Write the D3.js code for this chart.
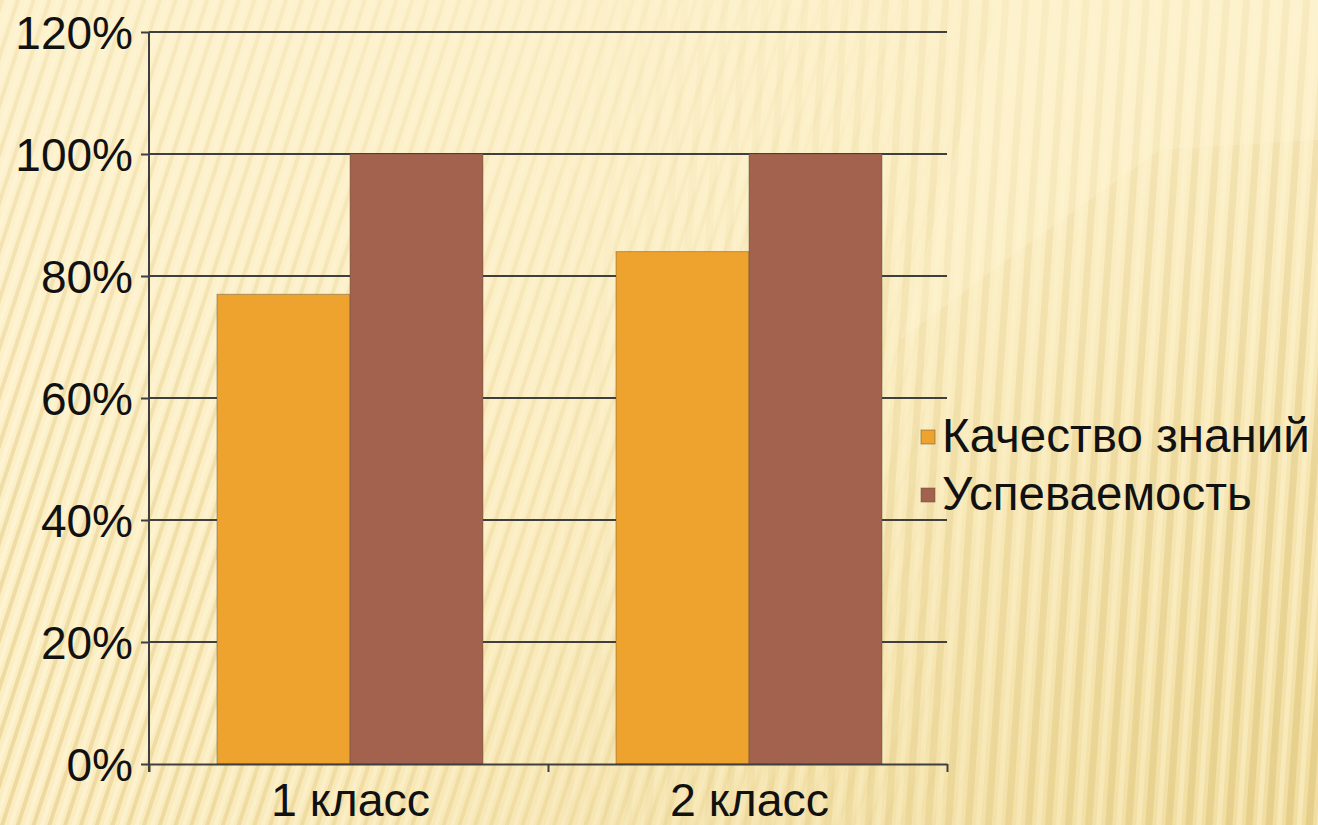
<!DOCTYPE html>
<html>
<head>
<meta charset="utf-8">
<script src="https://cdn.jsdelivr.net/npm/d3@7"></script>
<style>
  html, body { margin: 0; padding: 0; background: #FBEEC4; }
  svg { display: block; }
  text { font-family: "Liberation Sans", Arial, sans-serif; fill: #111; }
</style>
</head>
<body>
<svg id="chart" width="1318" height="825"></svg>
<script>
// ---- data ----
const categories = ["1 класс", "2 класс"];
const seriesNames = ["Качество знаний", "Успеваемость"];
const quality = [0.77, 0.84];
const performance = [1.00, 1.00];
const yTicks = [0, 0.2, 0.4, 0.6, 0.8, 1.0, 1.2];
const seriesColors = ["#EEA32F", "#A3624D"];

const W = 1318, H = 825;
const svg = d3.select("#chart");
const defs = svg.append("defs");

// background gradient
const bg = defs.append("linearGradient").attr("id", "bgGrad")
  .attr("x1", "0").attr("y1", "0").attr("x2", "1").attr("y2", "1");
bg.append("stop").attr("offset", "0").attr("stop-color", "#FDF2CE");
bg.append("stop").attr("offset", "0.5").attr("stop-color", "#FBEDC1");
bg.append("stop").attr("offset", "1").attr("stop-color", "#F1DDA0");

// diagonal stripes (left)
const p1 = defs.append("pattern").attr("id", "stripeDiag")
  .attr("width", 15).attr("height", 15).attr("patternUnits", "userSpaceOnUse")
  .attr("patternTransform", "rotate(18)");
p1.append("rect").attr("x", 0).attr("y", 0).attr("width", 4).attr("height", 15)
  .attr("fill", "#D6B866").attr("opacity", 0.4);
p1.append("rect").attr("x", 8).attr("y", 0).attr("width", 4).attr("height", 15)
  .attr("fill", "#FFF8DE").attr("opacity", 0.55);

// vertical stripes (right)
const p2 = defs.append("pattern").attr("id", "stripeVert")
  .attr("width", 20).attr("height", 20).attr("patternUnits", "userSpaceOnUse")
  .attr("patternTransform", "rotate(4)");
p2.append("rect").attr("x", 0).attr("y", 0).attr("width", 7).attr("height", 20)
  .attr("fill", "#D8BC6C").attr("opacity", 0.45);
p2.append("rect").attr("x", 11).attr("y", 0).attr("width", 5).attr("height", 20)
  .attr("fill", "#FFF6D6").attr("opacity", 0.45);

const mL = defs.append("linearGradient").attr("id", "mLeftGrad").attr("x1", 0).attr("x2", 1);
mL.append("stop").attr("offset", 0).attr("stop-color", "#fff").attr("stop-opacity", 0.95);
mL.append("stop").attr("offset", 0.55).attr("stop-color", "#fff").attr("stop-opacity", 0.35);
mL.append("stop").attr("offset", 0.75).attr("stop-color", "#fff").attr("stop-opacity", 0);
defs.append("mask").attr("id", "maskLeft")
  .append("rect").attr("width", W).attr("height", H).attr("fill", "url(#mLeftGrad)");

const mR = defs.append("linearGradient").attr("id", "mRightGrad").attr("x1", 0).attr("x2", 1);
mR.append("stop").attr("offset", 0.4).attr("stop-color", "#fff").attr("stop-opacity", 0);
mR.append("stop").attr("offset", 0.7).attr("stop-color", "#fff").attr("stop-opacity", 0.6);
mR.append("stop").attr("offset", 1).attr("stop-color", "#fff").attr("stop-opacity", 1);
defs.append("mask").attr("id", "maskRight")
  .append("rect").attr("width", W).attr("height", H).attr("fill", "url(#mRightGrad)");

// vertical fade for stripes (stronger toward bottom)
const mB = defs.append("linearGradient").attr("id", "mBotGrad").attr("x1", 0).attr("x2", 0).attr("y1", 0).attr("y2", 1);
mB.append("stop").attr("offset", 0).attr("stop-color", "#FDF2CE").attr("stop-opacity", 0.55);
mB.append("stop").attr("offset", 0.6).attr("stop-color", "#FDF2CE").attr("stop-opacity", 0.1);
mB.append("stop").attr("offset", 1).attr("stop-color", "#FDF2CE").attr("stop-opacity", 0);

svg.append("rect").attr("width", W).attr("height", H).attr("fill", "url(#bgGrad)");
svg.append("rect").attr("width", W).attr("height", H).attr("fill", "url(#stripeDiag)").attr("mask", "url(#maskLeft)");
svg.append("rect").attr("width", W).attr("height", H).attr("fill", "url(#stripeVert)").attr("mask", "url(#maskRight)");
svg.append("rect").attr("width", W).attr("height", H).attr("fill", "url(#mBotGrad)");
// lighter tilted panel top-right
svg.append("path").attr("d", "M1000,0 L1318,0 L1318,140 L1160,150 L1020,250 L900,340 Z")
  .attr("fill", "#FFF6D8").attr("opacity", 0.25);

// ---- scales ----
const x0 = d3.scaleBand().domain(categories).range([149, 947]).paddingInner(0).paddingOuter(0);
const x1 = d3.scaleBand().domain(seriesNames).range([1.5, x0.bandwidth() + 1.5]).paddingInner(0).paddingOuter(0.5);
const y = d3.scaleLinear().domain([0, 1.2]).range([764, 32]);

const axisColor = "#3F3F3F";

// gridlines
svg.append("g").selectAll("line").data(yTicks.filter(d => d > 0)).join("line")
  .attr("x1", 149).attr("x2", 947)
  .attr("y1", d => y(d)).attr("y2", d => y(d))
  .attr("stroke", axisColor).attr("stroke-width", 2);

// bars
const rows = categories.map((c, i) => ({ cat: c, vals: [quality[i], performance[i]] }));
const groups = svg.append("g").selectAll("g").data(rows).join("g")
  .attr("transform", d => `translate(${x0(d.cat)},0)`);
groups.selectAll("rect").data(d => d.vals.map((v, j) => ({ s: seriesNames[j], v, j }))).join("rect")
  .attr("x", d => x1(d.s))
  .attr("width", x1.bandwidth())
  .attr("y", d => y(d.v))
  .attr("height", d => y(0) - y(d.v))
  .attr("fill", d => seriesColors[d.j])
  .attr("stroke", "rgba(90,80,60,0.45)").attr("stroke-width", 1);

// y axis
const yAxis = d3.axisLeft(y).tickValues(yTicks).tickFormat(d3.format(".0%")).tickSize(8).tickPadding(8);
const gy = svg.append("g").attr("transform", "translate(149,0)").call(yAxis);
gy.select(".domain").remove();
gy.selectAll(".tick line").attr("stroke", axisColor).attr("stroke-width", 2);
gy.selectAll(".tick text").attr("font-size", 46).attr("dy", "0.36em").attr("x", -16)
  .attr("fill", "#111").style("font-family", "'Liberation Sans', Arial, sans-serif");
svg.append("line").attr("x1", 149).attr("x2", 149).attr("y1", 32).attr("y2", 772)
  .attr("stroke", axisColor).attr("stroke-width", 2);

// x axis
const xAxis = d3.axisBottom(d3.scaleLinear().domain([0, 2]).range([149, 947]))
  .tickValues([0, 1, 2]).tickFormat("").tickSize(8).tickSizeOuter(0);
const gx = svg.append("g").attr("transform", "translate(0,764)").call(xAxis);
gx.select(".domain").attr("stroke", axisColor).attr("stroke-width", 2);
gx.selectAll(".tick line").attr("stroke", axisColor).attr("stroke-width", 2);

svg.append("g").selectAll("text").data(categories).join("text")
  .attr("x", d => x0(d) + x0.bandwidth() / 2 + 2)
  .attr("y", 816)
  .attr("text-anchor", "middle")
  .attr("font-size", 46.5)
  .text(d => d);

// legend
const legendY = [437, 495];
const lg = svg.append("g").selectAll("g").data(seriesNames).join("g")
  .attr("transform", (d, i) => `translate(921,${legendY[i]})`);
lg.append("rect").attr("x", 0).attr("y", -7).attr("width", 14).attr("height", 14)
  .attr("fill", (d, i) => seriesColors[i]).attr("stroke", "rgba(90,80,60,0.5)").attr("stroke-width", 1);
lg.append("text").attr("x", 21).attr("y", 15).attr("font-size", 47.5).text(d => d);
</script>
</body>
</html>
